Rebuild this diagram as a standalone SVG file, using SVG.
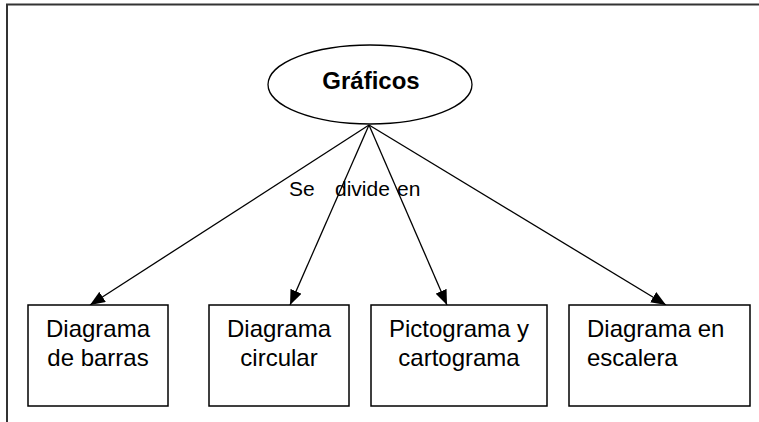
<svg xmlns="http://www.w3.org/2000/svg" width="759" height="422" viewBox="0 0 759 422">
<style>
.frame{stroke:#333;stroke-width:2;fill:none}
.box{fill:#fff;stroke:#000;stroke-width:1.5}
.t{font-family:"Liberation Sans",Arial,sans-serif;font-size:24px;fill:#000}
.lbl{font-family:"Liberation Sans",Arial,sans-serif;font-size:21px;fill:#000}
.edge{stroke:#000;stroke-width:1.3;fill:none;marker-end:url(#ah)}
</style>
<defs>
<marker id="ah" markerWidth="15" markerHeight="12" refX="15" refY="6" orient="auto" markerUnits="userSpaceOnUse">
<path d="M0,0 L15,6 L0,12 Z" fill="#000"/>
</marker>
</defs>
<rect width="759" height="422" fill="#fff"/>
<path class="frame" d="M7,422 V4.5 H759"/>
<g id="connectors">
<line class="edge" x1="369" y1="125" x2="90" y2="305"/>
<line class="edge" x1="369" y1="125" x2="290" y2="305"/>
<line class="edge" x1="369" y1="125" x2="447" y2="305"/>
<line class="edge" x1="369" y1="125" x2="666" y2="305"/>
<text class="lbl" x="289" y="196">Se</text>
<text class="lbl" x="335" y="196">divide</text>
<text class="lbl" x="397" y="196">en</text>
</g>
<g id="graficos">
<ellipse cx="370" cy="84.5" rx="102" ry="39.5" fill="#fff" stroke="#000" stroke-width="1.3"/>
<text class="t" x="371" y="89" text-anchor="middle" font-weight="bold" font-size="29">Gráficos</text>
</g>
<g id="barras">
<rect class="box" x="28" y="305" width="140" height="101"/>
<text class="t" x="98" y="337" text-anchor="middle">Diagrama</text>
<text class="t" x="98" y="366" text-anchor="middle">de barras</text>
</g>
<g id="circular">
<rect class="box" x="209" y="305" width="140" height="101"/>
<text class="t" x="279" y="337" text-anchor="middle">Diagrama</text>
<text class="t" x="279" y="366" text-anchor="middle">circular</text>
</g>
<g id="pictograma">
<rect class="box" x="371" y="305" width="176" height="101"/>
<text class="t" x="459" y="337" text-anchor="middle">Pictograma y</text>
<text class="t" x="459" y="366" text-anchor="middle">cartograma</text>
</g>
<g id="escalera">
<rect class="box" x="569" y="305" width="181" height="101"/>
<text class="t" x="587" y="337">Diagrama en</text>
<text class="t" x="587" y="366">escalera</text>
</g>
</svg>
